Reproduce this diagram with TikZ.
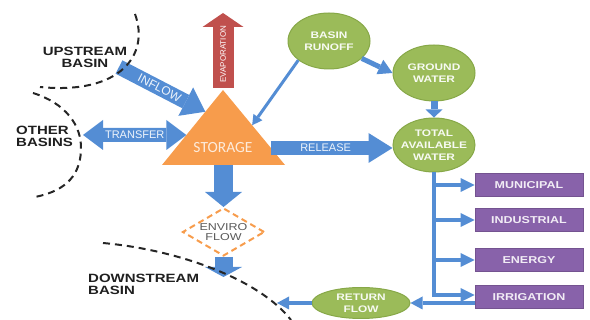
\documentclass[tikz,border=0pt]{standalone}
\usepackage{fontspec}
\setmainfont{Liberation Sans}
\newfontfamily\widefont[FakeStretch=1.25]{Liberation Sans}
\newfontfamily\calfont{Carlito}
\usetikzlibrary{arrows.meta,calc,shapes.geometric}

\definecolor{flowblue}{RGB}{84,141,212}
\definecolor{runoffgreen}{RGB}{155,187,89}
\definecolor{greenline}{RGB}{135,168,72}
\definecolor{usepurple}{RGB}{136,98,170}
\definecolor{storeorange}{RGB}{247,156,76}
\definecolor{evapred}{RGB}{192,80,77}

\tikzset{
  region/.style={font=\widefont\bfseries\fontsize{12}{12}\selectfont, text={black!88}, align=left, inner sep=0pt},
  water/.style={ellipse, fill=runoffgreen, draw=greenline, line width=1pt, minimum width=82pt, minimum height=56pt, inner sep=0pt},
  watertext/.style={font=\widefont\bfseries\fontsize{9.5}{12}\selectfont, text=white!92!runoffgreen, align=center, inner sep=0pt},
  sector/.style={fill=usepurple, draw=usepurple!85!black, line width=.6pt, minimum width=108pt, minimum height=23pt, inner sep=0pt, font=\widefont\bfseries\fontsize{10}{10}\selectfont, text=white!88!usepurple},
  storetext/.style={font=\calfont\fontsize{15.5}{15.5}\selectfont, text={white!80!storeorange}, inner sep=0pt},
  envbox/.style={diamond, draw=storeorange, line width=2pt, dash pattern=on 6pt off 4pt, minimum width=82pt, minimum height=48pt, inner sep=0pt},
  envtext/.style={font=\widefont\fontsize{10}{10}\selectfont, text={black!65}, align=center, inner sep=0pt},
  arrowtext/.style={font=\fontsize{11}{11}\selectfont, text=white!90!flowblue, inner sep=0pt},
  block/.style n args={3}{draw=flowblue, line width=#1, -{Triangle[length=#2, width=#3, line width=0pt]}},
  pipe/.style n args={3}{draw=flowblue, line width=#1, -{Triangle[length=#2, width=#3, line width=0pt]}},
  divide/.style={draw={black!85}, line width=2pt, dash pattern=on 7pt off 5pt},
}

\begin{document}
\begin{tikzpicture}[x=1pt, y=-1pt]
  \useasboundingbox (0,0) rectangle (590,320);

  % storage
  \coordinate (apex) at (223,90);
  \coordinate (baseL) at (162,165);
  \coordinate (baseR) at (285,165);
  \fill[storeorange] (apex) -- (baseL) -- (baseR) -- cycle;
  \node[storetext] (storage) at (223,148) {STORAGE};
  \coordinate (spill) at ($(apex)!0.773!(baseR)$);
  \coordinate (outflow) at ($(baseL)!0.5!(baseR)$);

  % water sources
  \node[water, label={[watertext]center:BASIN\\RUNOFF}] (runoff) at (329,41) {};
  \node[water, label={[watertext]center:GROUND\\WATER}] (ground) at (434,73) {};
  \node[water, minimum height=54pt, label={[watertext]center:TOTAL\\AVAILABLE\\WATER}] (total) at (434,145) {};
  \node[water, minimum width=98pt, minimum height=31pt, label={[watertext]center:RETURN\\FLOW}] (retflow) at (361,303) {};

  % uses
  \node[sector] (municipal) at (529,185) {MUNICIPAL};
  \node[sector] (industrial) at (529,220) {INDUSTRIAL};
  \node[sector] (energy) at (529,260) {ENERGY};
  \node[sector] (irrigation) at (529,297) {IRRIGATION};

  \node[envbox, label={[envtext]center:ENVIRO\\FLOW}] (enviro) at (223.5,232) {};

  % basins
  \node[region, align=center] (upstream) at (85,57) {UPSTREAM\\BASIN};
  \node[region, anchor=west] (others) at (16,136) {OTHER\\BASINS};
  \node[region, anchor=west] (downstream) at (88,284) {DOWNSTREAM\\BASIN};

  \coordinate (inlet) at (119,67);
  \coordinate (outside) at (83,135);
  \coordinate (vapour) at (223,13);
  \coordinate (river) at (223.5,277);
  \coordinate (outlet) at (277,303);

  % block arrows
  \draw[block={21pt}{14pt}{41pt}, draw=evapred] ($(apex)+(0,-2)$) -- (vapour)
    node[pos=.45, sloped, arrowtext, text=white, font=\fontsize{8}{8}\selectfont] {EVAPORATION};
  \draw[block={15pt}{22pt}{32pt}] (inlet) -- ($(apex)!0.29!(baseL)$)
    node[pos=.47, sloped, arrowtext, font=\fontsize{12}{12}\selectfont] {INFLOW};
  \draw[draw=flowblue, line width=14pt,
        {Triangle[length=20pt, width=30pt, line width=0pt]}-{Triangle[length=20pt, width=30pt, line width=0pt]}]
    (outside) -- ($(apex)!0.6!(baseL)$) node[midway, arrowtext] {TRANSFER};
  \draw[block={14pt}{24pt}{30pt}] (spill) -- (spill -| total.west)
    node[pos=.45, arrowtext] {RELEASE};
  \draw[block={19pt}{15pt}{37pt}] (outflow) -- (enviro.north);
  \draw[block={18pt}{10pt}{37pt}] (enviro.south) -- (river);

  % runoff paths
  \draw[pipe={3pt}{10pt}{11pt}] (runoff.212) -- ($(apex)!0.47!(baseR)$);
  \draw[pipe={5pt}{14pt}{16pt}] (runoff.-28) -- (ground.west);
  \draw[pipe={7pt}{8pt}{17pt}] (ground) -- (total);

  % distribution
  \draw[pipe={4.5pt}{14pt}{14pt}] (total.south) |- ($(irrigation.west)+(0,-2)$);
  \foreach \use in {municipal, industrial, energy}
    \draw[pipe={4.5pt}{14pt}{14pt}] (total.south |- \use.west) -- (\use.west);
  \draw[pipe={4pt}{12pt}{13pt}] (irrigation.west |- retflow.east) -- (retflow.east);
  \draw[pipe={4pt}{12pt}{13pt}] (retflow.west) -- (outlet);

  % basin boundaries
  \draw[divide] (135,14) .. controls (150,55) and (120,95) .. (40,87);
  \draw[divide] (33,93) .. controls (65,103) and (82,125) .. (81,150)
    .. controls (80,180) and (60,192) .. (35,197);
  \draw[divide] (103,243) .. controls (180,250) and (260,280) .. (291,320);
\end{tikzpicture}
\end{document}
